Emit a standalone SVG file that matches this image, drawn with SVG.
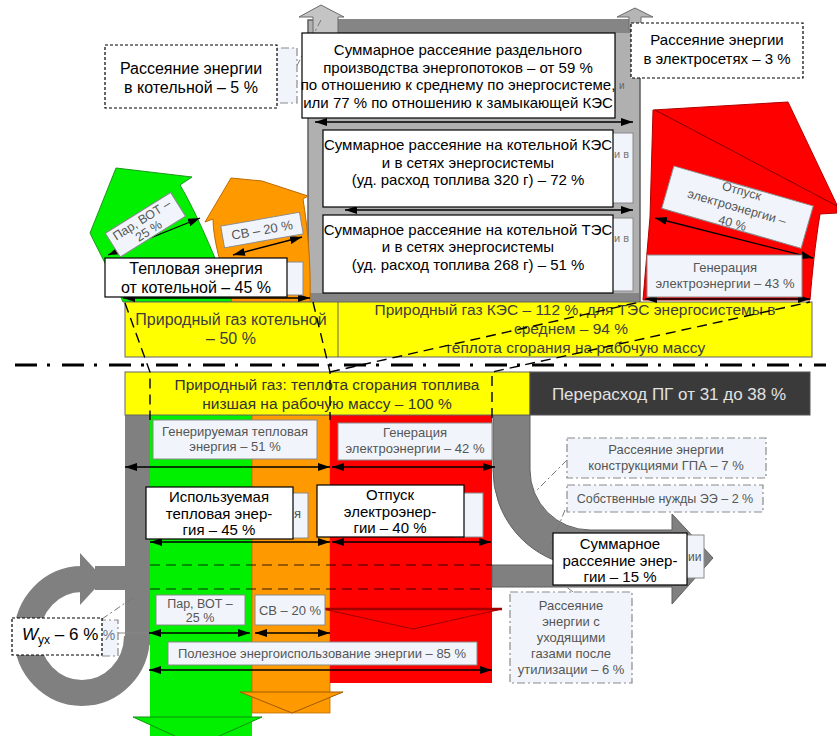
<svg xmlns="http://www.w3.org/2000/svg" width="837" height="736" viewBox="0 0 837 736">
<style>
text{font-family:"Liberation Sans",Arial,sans-serif}
.c{text-anchor:middle}
.b15{font-size:15px;fill:#000}
.b16{font-size:16px;fill:#000}
.g13{font-size:13px;fill:#555}
.g12{font-size:12.5px;fill:#555}
.wb{fill:#fff;stroke:#000;stroke-width:1.2}
.lb{fill:#f1f5fb;stroke:#8a8a8a;stroke-width:1}
.ddb{fill:#f1f5fb;stroke:#8a8a8a;stroke-width:1.2;stroke-dasharray:8 3 2 3}
.db{fill:#fff;stroke:#000;stroke-width:1.2;stroke-dasharray:3 2}
.ar{fill:none;stroke:#000;stroke-width:1.3;marker-start:url(#ah);marker-end:url(#ah)}
.gd{fill:none;stroke:#000;stroke-width:1.4;stroke-dasharray:10 6}
.cd{fill:none;stroke:#000;stroke-opacity:.55;stroke-width:1.4;stroke-dasharray:10 6}
.ld{fill:none;stroke:#777;stroke-width:1;stroke-dasharray:7 3 2 3}
.gray{fill:#808080;stroke:#5f5f5f;stroke-width:1}
</style>
<defs>
<marker id="ah" viewBox="0 0 12 8" refX="12" refY="4" markerWidth="12" markerHeight="8" markerUnits="userSpaceOnUse" orient="auto-start-reverse"><path d="M0,0L12,4L0,8z" fill="#000"/></marker>
</defs>
<rect width="837" height="736" fill="#fff"/>

<!-- top gray frame -->
<g id="n-frame">
<rect x="308" y="20" width="332" height="282" fill="#b0b0b0" stroke="#5e5e5e" stroke-width="1.5"/>
<rect x="338" y="20" width="302" height="13" fill="#858585"/>
<rect x="309" y="293" width="330" height="9" fill="#858585"/>
<polygon points="299,17 321,5 344,17 338,17 338,35 313,35 313,17" fill="#c4c4c4" stroke="#6a6a6a"/>
<polygon points="617,17 635,8 653,17 641,17 641,30 629,30 629,17" fill="#b5b5b5" stroke="#6a6a6a"/>
</g>

<!-- top-left arrows -->
<g id="n-green-arrow">
<path d="M123,302 C112,275 98,250 90,233 L116,168 L192,177 L180,185 C196,212 216,258 232,302 Z" fill="#00f000" stroke="#1a9a1a" stroke-width="1"/>
</g>
<g id="n-orange-arrow">
<path d="M232,302 C222,270 213,240 213,219 L205,222 L231,178 L262,181 L308,196 L303,199 C308,230 311,265 310,302 Z" fill="#ff9900" stroke="#c06a00" stroke-width="1"/>
</g>
<g id="n-red-arrow">
<path d="M643,300 L650,217 L653,110 L788,102 L837,205 L837,213 L820,214 C815,245 812,275 810,300 Z" fill="#ff0000" stroke="#b00000" stroke-width="1"/>
<line x1="655" y1="110" x2="837" y2="206" stroke="#800000" stroke-width="1"/>
</g>

<!-- top yellow band -->
<g id="n-gas-top">
<rect x="125" y="302" width="687" height="55" fill="#ffff00" stroke="#666" stroke-width="1"/>
<line x1="338" y1="302" x2="338" y2="357" stroke="#666"/>
<text class="c" x="231" y="325" font-size="16" fill="#3c3c3c">Природный газ котельной</text>
<text class="c" x="231" y="344" font-size="16" fill="#3c3c3c">– 50 %</text>
<text class="c" x="575" y="315" font-size="15.5" fill="#3c3c3c">Природный газ КЭС – 112 %, для ТЭС энергосистемы в</text>
<text class="c" x="571" y="334" font-size="15.5" fill="#3c3c3c">среднем – 94 %</text>
<text class="c" x="575" y="353" font-size="15.5" fill="#3c3c3c">теплота сгорания на рабочую массу</text>
</g>

<!-- connectors: top -->
<g id="connectors-top">
<line class="ld" x1="321" y1="20" x2="292" y2="75"/>
<line class="ar" x1="315" y1="122" x2="633" y2="122"/>
<line class="ar" x1="345" y1="210" x2="633" y2="210"/>
<line class="ar" x1="123" y1="298" x2="310" y2="298"/>
<line class="ar" x1="645" y1="299" x2="810" y2="299"/>
<line class="ar" x1="108" y1="255" x2="200" y2="218"/>
<line class="ar" x1="233" y1="255" x2="302" y2="237"/>
<line class="ar" x1="655" y1="218" x2="813" y2="258"/>
</g>

<!-- top labels -->
<g id="n-boiler-loss">
<rect class="ddb" x="265" y="48" width="32" height="55"/>
<rect class="db" x="105" y="45" width="172" height="63"/>
<text class="c b16" x="191" y="74">Рассеяние энергии</text>
<text class="c b16" x="191" y="93">в котельной – 5 %</text>
</g>
<g id="n-grid-loss">
<rect class="db" x="631" y="23" width="172" height="55"/>
<text class="c b15" x="717" y="45">Рассеяние энергии</text>
<text class="c b15" x="717" y="64">в электросетях – 3 %</text>
</g>
<g id="n-total-separate">
<text x="619" y="89" font-size="10" fill="#666">и</text>
<rect class="wb" x="302" y="33" width="313" height="85"/>
<text class="c b15" x="458" y="55">Суммарное рассеяние раздельного</text>
<text class="c b15" x="458" y="72.5">производства энергопотоков – от 59 %</text>
<text class="c b15" x="458" y="90">по отношению к среднему по энергосистеме,</text>
<text class="c b15" x="458" y="107.5">или 77 % по отношению к замыкающей КЭС</text>
</g>
<g id="n-kes">
<rect class="lb" x="600" y="133" width="33" height="70"/>
<text x="614" y="158" font-size="11" fill="#777">и в</text>
<rect class="wb" x="323" y="130" width="290" height="77"/>
<text class="c b15" x="468" y="150">Суммарное рассеяние на котельной КЭС</text>
<text class="c b15" x="468" y="168">и в сетях энергосистемы</text>
<text class="c b15" x="468" y="185">(уд. расход топлива 320 г) – 72 %</text>
</g>
<g id="n-tes">
<rect class="lb" x="600" y="218" width="33" height="73"/>
<text x="614" y="242" font-size="11" fill="#777">и в</text>
<rect class="wb" x="323" y="215" width="290" height="78"/>
<text class="c b15" x="468" y="235">Суммарное рассеяние на котельной ТЭС</text>
<text class="c b15" x="468" y="252">и в сетях энергосистемы</text>
<text class="c b15" x="468" y="270">(уд. расход топлива 268 г) – 51 %</text>
</g>
<g id="n-steam-top">
<g transform="translate(145,225) rotate(-32)">
<rect class="lb" x="-38" y="-14" width="77" height="28"/>
<text class="c g12" x="0" y="-2">Пар, ВОТ –</text>
<text class="c g12" x="0" y="11">25 %</text>
</g>
</g>
<g id="n-hw-top">
<g transform="translate(262,230) rotate(-10)">
<rect class="lb" x="-40" y="-11" width="80" height="22"/>
<text class="c g13" x="0" y="4.5">СВ – 20 %</text>
</g>
</g>
<g id="n-heat-boiler">
<rect class="lb" x="280" y="262" width="23" height="33"/>
<rect class="wb" x="105" y="258" width="182" height="39"/>
<text class="c b16" x="196" y="274">Тепловая энергия</text>
<text class="c b16" x="196" y="293">от котельной – 45 %</text>
</g>
<g id="n-el-release-top">
<g transform="translate(737,207) rotate(16)">
<rect class="lb" x="-72" y="-22" width="145" height="44"/>
<text class="c g12" x="0" y="-12.5">Отпуск</text>
<text class="c g12" x="0" y="4.5">электроэнергии –</text>
<text class="c g12" x="0" y="21">40 %</text>
</g>
</g>
<g id="n-el-gen-top">
<rect class="lb" x="647" y="255" width="155" height="42"/>
<text class="c g13" x="725" y="272">Генерация</text>
<text class="c g13" x="725" y="288">электроэнергии – 43 %</text>
</g>

<!-- separator -->
<line x1="15" y1="365" x2="826" y2="365" stroke="#000" stroke-width="3" stroke-dasharray="22 10 3 12"/>

<!-- lower columns -->
<g id="n-columns">
<rect x="150" y="415" width="102" height="321" fill="#00f000"/>
<rect x="252" y="415" width="78" height="298" fill="#ff9900" stroke="#b86e00" stroke-width=".8"/>
<rect x="330" y="415" width="162" height="268" fill="#ff0000"/>
<rect x="125" y="415" width="25" height="230" fill="#808080"/>
</g>
<g id="n-ring">
<rect x="95" y="566" width="32" height="24" fill="#808080"/>
<path d="M137,636 A55,57 0 1 1 82,579" fill="none" stroke="#808080" stroke-width="26"/>
<polygon points="80,553 104,579 80,605" fill="#808080"/>
</g>
<g id="n-right-loss-flow">
<path class="gray" d="M493,415 L530,415 L530,470 A60,60 0 0 0 590,530 L672,530 L672,514 L713,558 L672,604 L672,587 L492,587 L492,565 L570,565 A97,97 0 0 1 493,470 Z"/>
</g>
<g id="n-down-arrows">
<polygon points="133,717 262,717 197,746" fill="#00f000" stroke="#109010" stroke-width="1"/>
<polygon points="240,692 343,692 292,713" fill="#ff9900" stroke="#a05a00" stroke-width="1"/>
<polygon points="323,609 502,609 413,629" fill="#ff0000" stroke="#a00000" stroke-width="1.2"/>
<line x1="323" y1="609" x2="502" y2="609" stroke="#a00000" stroke-width="2.5"/>
</g>
<g id="col-dashes">
<line class="cd" x1="150" y1="565" x2="492" y2="565"/>
<line class="cd" x1="150" y1="589" x2="492" y2="589"/>
</g>

<!-- lower yellow band -->
<g id="n-gas-100">
<rect x="125" y="372" width="405" height="43" fill="#ffff00" stroke="#666" stroke-width="1"/>
<text class="c" x="327" y="390" font-size="15.5" fill="#333">Природный газ: теплота сгорания топлива</text>
<text class="c" x="327" y="409" font-size="15.5" fill="#333">низшая на рабочую массу – 100 %</text>
</g>
<g id="n-overuse">
<rect x="530" y="372" width="280" height="43" fill="#3a3a3a" stroke="#555"/>
<text class="c" x="669" y="400" font-size="17" fill="#e2e2e2">Перерасход ПГ от 31 до 38 %</text>
</g>

<!-- lower connectors -->
<g id="connectors-bottom">
<line class="ar" x1="125" y1="467" x2="330" y2="467"/>
<line class="ar" x1="332" y1="467" x2="495" y2="467"/>
<line class="ar" x1="150" y1="542" x2="330" y2="542"/>
<line class="ar" x1="332" y1="542" x2="491" y2="542"/>
<line class="ar" x1="149" y1="633" x2="250" y2="633"/>
<line class="ar" x1="255" y1="633" x2="330" y2="633"/>
<line class="ar" x1="149" y1="670" x2="492" y2="670"/>
<line x1="117" y1="633" x2="149" y2="633" stroke="#888" stroke-width="1"/>
<line class="ld" x1="567" y1="460" x2="533" y2="494"/>
<line class="ld" x1="565" y1="510" x2="548" y2="552"/>
<line class="ld" x1="573" y1="592" x2="560" y2="582"/>
<line class="ld" x1="102" y1="619" x2="134" y2="597"/>
</g>

<!-- lower labels -->
<g id="n-gen-heat">
<rect class="lb" x="153" y="420" width="164" height="39"/>
<text class="c g13" x="235" y="436">Генерируемая тепловая</text>
<text class="c g13" x="235" y="451">энергия – 51 %</text>
</g>
<g id="n-gen-el">
<rect class="lb" x="338" y="423" width="154" height="37"/>
<text class="c g13" x="415" y="437">Генерация</text>
<text class="c g13" x="415" y="453">электроэнергии – 42 %</text>
</g>
<g id="n-used-heat">
<rect class="lb" x="280" y="493" width="28" height="45"/>
<text x="294" y="518" font-size="13" fill="#555">я</text>
<rect class="wb" x="146" y="487" width="147" height="52"/>
<text class="c b15" x="219" y="502">Используемая</text>
<text class="c b15" x="219" y="519">тепловая энер-</text>
<text class="c b15" x="219" y="535">гия – 45 %</text>
</g>
<g id="n-el-release">
<rect class="lb" x="455" y="493" width="28" height="44"/>
<rect class="wb" x="317" y="485" width="147" height="52"/>
<text class="c b15" x="390" y="500">Отпуск</text>
<text class="c b15" x="390" y="516.5">электроэнер-</text>
<text class="c b15" x="390" y="533">гии – 40 %</text>
</g>
<g id="n-steam">
<rect class="lb" x="156" y="595" width="89" height="30"/>
<text class="c g12" x="200" y="608">Пар, ВОТ –</text>
<text class="c g12" x="200" y="622">25 %</text>
</g>
<g id="n-hw">
<rect class="lb" x="255" y="595" width="70" height="30"/>
<text class="c g13" x="290" y="615">СВ – 20 %</text>
</g>
<g id="n-useful">
<rect class="lb" x="168" y="642" width="309" height="23"/>
<text class="c g13" x="322" y="658">Полезное энергоиспользование энергии – 85 %</text>
</g>
<g id="n-wux">
<rect class="ddb" x="98" y="620" width="20" height="36"/>
<text class="c" x="109" y="640" font-size="14" fill="#6a7a95">%</text>
<rect class="db" x="12" y="618" width="90" height="37"/>
<text x="22" y="640" font-size="17" fill="#000"><tspan font-style="italic">W</tspan><tspan font-size="12" dy="4">ух</tspan><tspan dy="-4"> – 6 %</tspan></text>
</g>
<g id="n-gpa">
<rect class="ddb" x="567" y="438" width="199" height="40"/>
<text class="c g13" x="666" y="454">Рассеяние энергии</text>
<text class="c g13" x="666" y="470">конструкциями ГПА – 7 %</text>
</g>
<g id="n-own">
<rect class="ddb" x="567" y="485" width="196" height="27"/>
<text class="c g12" x="665" y="503">Собственные нужды ЭЭ – 2 %</text>
</g>
<g id="n-exhaust">
<rect class="ddb" x="510" y="592" width="122" height="91"/>
<text class="c g13" x="571" y="609.5">Рассеяние</text>
<text class="c g13" x="571" y="626">энергии с</text>
<text class="c g13" x="571" y="642">уходящими</text>
<text class="c g13" x="571" y="658">газами после</text>
<text class="c g13" x="571" y="674">утилизации – 6 %</text>
</g>
<g id="n-total-15">
<rect class="lb" x="675" y="535" width="29" height="43"/>
<text x="688" y="561" font-size="12" fill="#555">ии</text>
<rect class="wb" x="553" y="533" width="134" height="52"/>
<text class="c b15" x="620" y="549">Суммарное</text>
<text class="c b15" x="620" y="566">рассеяние энер-</text>
<text class="c b15" x="620" y="582">гии – 15 %</text>
</g>

<!-- dashed projection guides -->
<g id="guides">
<polyline class="gd" points="125,303 150,372 150,420"/>
<polyline class="gd" points="313,302 330,372 330,420"/>
<line class="gd" x1="330" y1="372" x2="640" y2="302"/>
<polyline class="gd" points="492,418 492,372 810,302"/>
</g>
</svg>
